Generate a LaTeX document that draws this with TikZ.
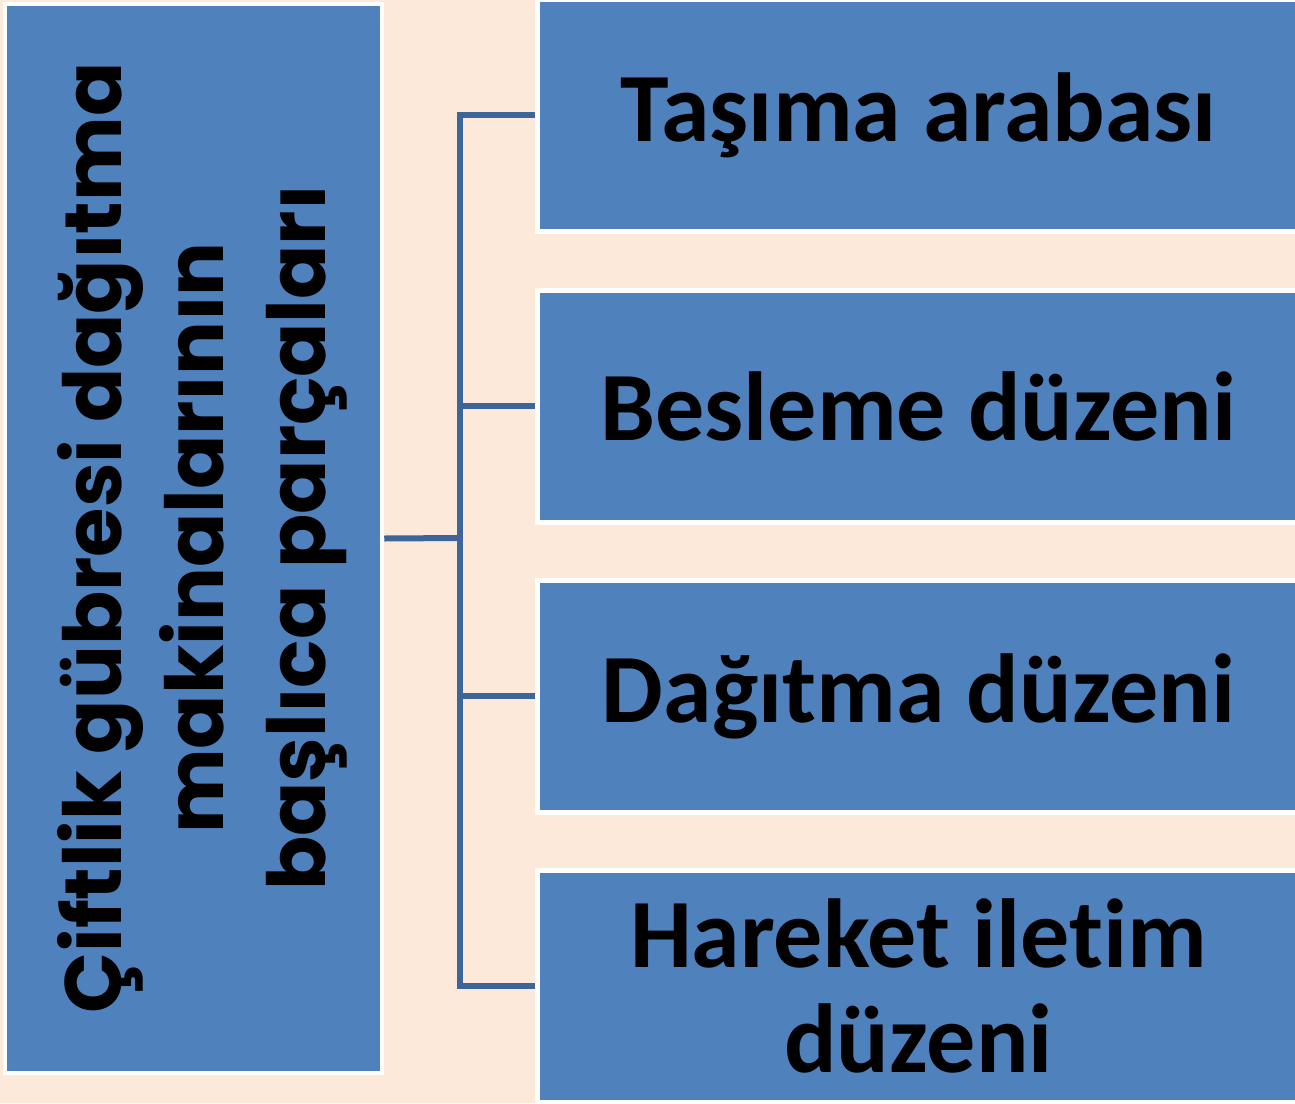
\documentclass[tikz,border=0pt]{standalone}
\usepackage{fontspec}
\setmainfont{Carlito}[Ligatures={NoCommon}]
\newfontfamily\roundfont{Poppins}[Ligatures={NoCommon}]
\definecolor{boxblue}{HTML}{4F81BD}
\definecolor{peach}{HTML}{FDE9DA}
\definecolor{linkblue}{HTML}{3D6597}
\begin{document}
\begin{tikzpicture}[x=1pt,y=-1pt,
        part/.style={draw=white,line width=5pt,fill=boxblue,minimum width=763pt,minimum height=232pt,inner sep=0pt,align=center,font=\fontsize{98}{105}\selectfont\bfseries},
        link/.style={draw=linkblue,line width=6pt}]
        \useasboundingbox (0,0) rectangle (1295,1103);
        \fill[peach] (0,0) rectangle (1295,1103);
        \clip (0,0) rectangle (1295,1103);
        \node[draw=white,line width=4.5pt,fill=boxblue,minimum width=377pt,minimum height=1069pt,inner sep=0pt] (root) at (193.5,538.5) {};
        \node[rotate=90,align=center,font=\roundfont\fontsize{80}{102}\selectfont\bfseries] (title) at (202,538) {Çiftlik gübresi dağıtma\\makinalarının\\başlıca parçaları};
        \node[part] (tasima) at (918.5,115) {Taşıma arabası};
        \node[part] (besleme) at (918.5,406) {Besleme düzeni};
        \node[part] (dagitma) at (918.5,696) {Dağıtma düzeni};
        \node[part] (hareket) at (918.5,986) {Hareket iletim\\düzeni};
        \coordinate (fork) at (460,538);
        \draw[link] (root.east) -- (fork);
        \draw[link] (tasima.west) -| (fork) |- (hareket.west);
        \foreach \n in {besleme,dagitma}
                \draw[link] (fork |- \n.west) -- (\n.west);
    \end{tikzpicture}
\end{document}
